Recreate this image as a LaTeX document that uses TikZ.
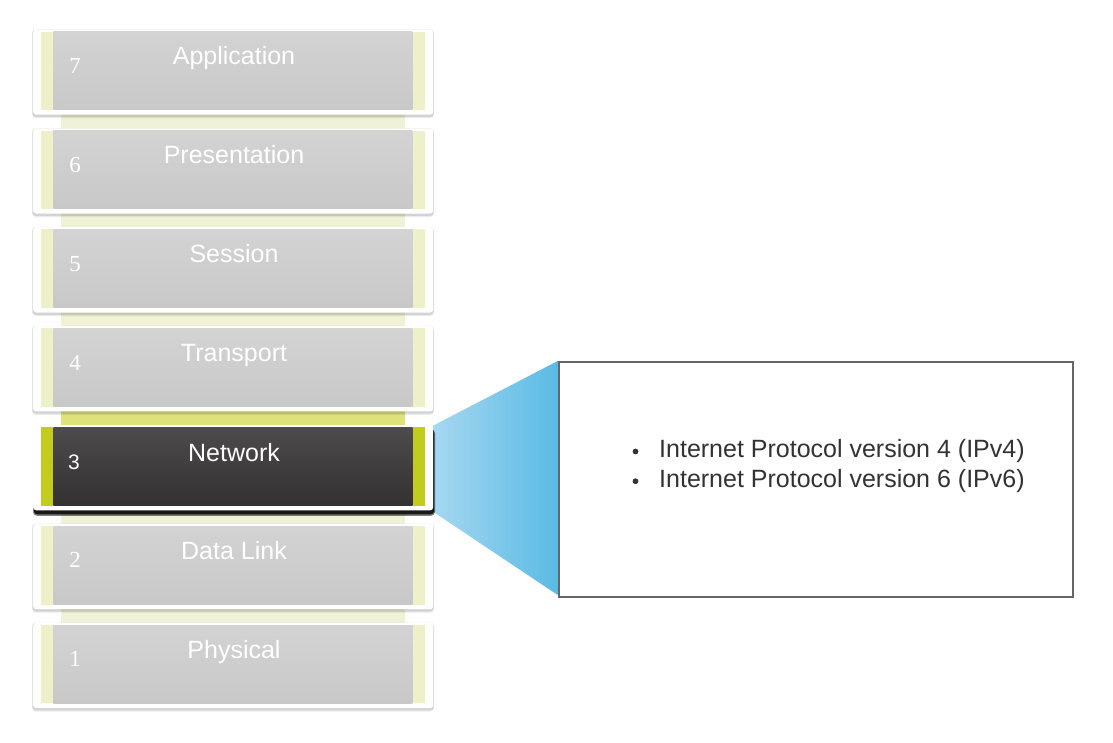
\documentclass[tikz,border=0pt]{standalone}
\usepackage{fontspec}
\setmainfont{Liberation Sans}
\newfontfamily\numfont{Liberation Serif}
\usetikzlibrary{calc}
\definecolor{cardgrayA}{HTML}{D3D3D3}
\definecolor{cardgrayB}{HTML}{C8C8C8}
\definecolor{paleyel}{HTML}{EEF0C9}
\definecolor{linkyel}{HTML}{F0F2D8}
\definecolor{hotlink}{HTML}{DDE27A}
\definecolor{netyel}{HTML}{C2CC1F}
\definecolor{darkA}{HTML}{4D4B4C}
\definecolor{darkB}{HTML}{353132}
\definecolor{blueL}{HTML}{A6D8F0}
\definecolor{blueR}{HTML}{5ABAE5}
\definecolor{txtgray}{HTML}{333333}
\definecolor{boxline}{HTML}{666666}
\tikzset{
  cardbox/.style={fill=white, rounded corners=3pt, minimum width=400pt, minimum height=85.3pt, inner sep=0pt, anchor=north west},
  layerlab/.style={text=white, font=\fontsize{25}{28}\selectfont, anchor=base, inner sep=0pt},
  layernum/.style={text=white, font=\numfont\fontsize{23}{26}\selectfont, anchor=base, inner sep=0pt},
  netnum/.style={text=white, font=\fontsize{21}{24}\selectfont, anchor=base, inner sep=0pt},
  infobox/.style={draw=boxline, line width=2pt, fill=white, minimum width=514pt, minimum height=235pt, inner sep=0pt, anchor=north west},
  itemtext/.style={text=txtgray, font=\fontsize{25}{28}\selectfont, anchor=base west, inner sep=0pt},
}
\begin{document}
\begin{tikzpicture}[x=1pt,y=-1pt]
\useasboundingbox[fill=white] (0,0) rectangle (1113,743);
% link strips behind cards
\fill[linkyel] (61,100) rectangle (405,690);
\fill[hotlink] (61,405) rectangle (405,430);
% gray layer cards
\foreach \n/\lab [count=\k from 0] in {7/Application,6/Presentation,5/Session,4/Transport,3/Network,2/Data Link,1/Physical}{
  \pgfmathsetmacro\t{31.7+98.9*\k}
  \ifnum\n=3\else
    \fill[black, opacity=0.08, rounded corners=4pt] (32,\t-2.5) rectangle (434,\t+86.5);
    \fill[black, opacity=0.10, rounded corners=3pt] (32.5,\t-2) rectangle (433.5,\t+85.3);
    \node[cardbox] (card\n) at (33,\t-2.5) {};
    \fill[paleyel] (40.7,\t) rectangle (53.3,\t+78.3);
    \fill[paleyel] (412.3,\t) rectangle (425,\t+78.3);
    \shade[top color=cardgrayA, bottom color=cardgrayB] (53.3,\t) rectangle (412.3,\t+78.3);
    \node[layerlab] (lab\n) at (234,\t+33) {\lab};
    \node[layernum] (num\n) at (75,\t+41.6) {\n};
  \fi
}
% callout wedge
\pgfmathsetmacro\tn{31.7+98.9*4}
\coordinate (wedgeTL) at (433,\tn-1.6);
\coordinate (wedgeBL) at (433,\tn+84.4);
\node[infobox] (info) at (557.7,361) {};
\shade[left color=blueL, right color=blueR] (wedgeTL) -- (info.north west) -- ($(info.south west)+(0,-3)$) -- (wedgeBL) -- cycle;
\node[infobox, fill=none] at (557.7,361) {};
% network card
\fill[black, opacity=0.5, rounded corners=4pt] (33,\tn+2) rectangle (435,\tn+88.5);
\fill[black, opacity=0.8, rounded corners=3pt] (34,\tn+2) rectangle (434,\tn+87);
\node[cardbox] (card3) at (33,\tn-2.5) {};
\fill[netyel] (40.7,\tn) rectangle (53.3,\tn+78.3);
\fill[netyel] (412.3,\tn) rectangle (425,\tn+78.3);
\shade[top color=darkA, bottom color=darkB] (53.3,\tn) rectangle (412.3,\tn+78.3);
\node[layerlab] (lab3) at (234,\tn+34.4) {Network};
\node[netnum] (num3) at (74,\tn+41.7) {3};
% info text
\node[itemtext] (ip4) at (659,457.3) {Internet Protocol version 4 (IPv4)};
\node[itemtext] (ip6) at (659,487) {Internet Protocol version 6 (IPv6)};
\fill[txtgray] ($(ip4.base west)+(-23.5,-5.8)$) circle (2.9pt);
\fill[txtgray] ($(ip6.base west)+(-23.5,-5.8)$) circle (2.9pt);
\end{tikzpicture}
\end{document}
